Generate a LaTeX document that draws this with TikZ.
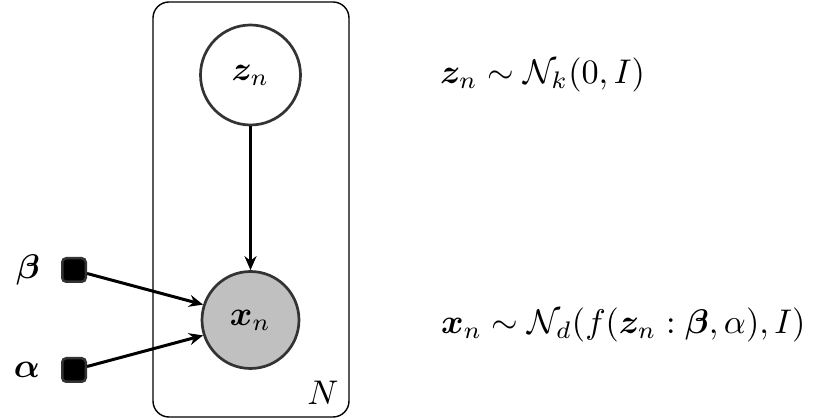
\documentclass[tikz,border=0pt]{standalone}
\usepackage{amsmath,bm}
\usetikzlibrary{arrows.meta}
\definecolor{edgegray}{HTML}{333333}
\definecolor{obsgray}{HTML}{C0C0C0}
\tikzset{
  latent/.style={circle, draw=edgegray, line width=2.7pt, fill=white, minimum size=100pt, inner sep=0pt},
  observed/.style={latent, fill=obsgray, minimum size=97pt},
  param/.style={rectangle, rounded corners=4pt, draw=edgegray, line width=2.5pt, fill=black, minimum size=23.5pt, inner sep=0pt},
  plate/.style={draw=black, line width=1.4pt, rounded corners=16pt},
  conn/.style={-{Stealth[length=14pt,width=12pt]}, line width=3pt, black},
  lbl/.style={inner sep=0pt}
}
\newcommand{\bigtxt}[1]{\scalebox{3.42}{#1}}
\begin{document}
\begin{tikzpicture}[x=1pt,y=-1pt]
\useasboundingbox (0,0) rectangle (820,419);
\draw[plate] (153,2) rectangle (349,417);
\node[latent] (z) at (250.5,75) {\bigtxt{$\bm{z}_n$}};
\node[observed] (x) at (250.5,320) {\bigtxt{$\bm{x}_n$}};
\node[param] (b) at (74,270) {};
\node[param] (a) at (74,370) {};
\node[lbl, anchor=east] (bl) at (40,270) {\bigtxt{$\bm{\beta}$}};
\node[lbl, anchor=east] (al) at (40,370) {\bigtxt{$\bm{\alpha}$}};
\node[lbl] (N) at (323,393) {\bigtxt{$N$}};
\draw[conn] (z) -- (x);
\draw[conn] (b) -- (x.162);
\draw[conn] (a) -- (x.198);
\node[lbl, anchor=west] (ez) at (440,75) {\bigtxt{$\bm{z}_n \sim \mathcal{N}_k(0, I)$}};
\node[lbl, anchor=west] (ex) at (441,325) {\bigtxt{$\bm{x}_n \sim \mathcal{N}_d(f(\bm{z}_n : \bm{\beta}, \alpha), I)$}};
\end{tikzpicture}
\end{document}
